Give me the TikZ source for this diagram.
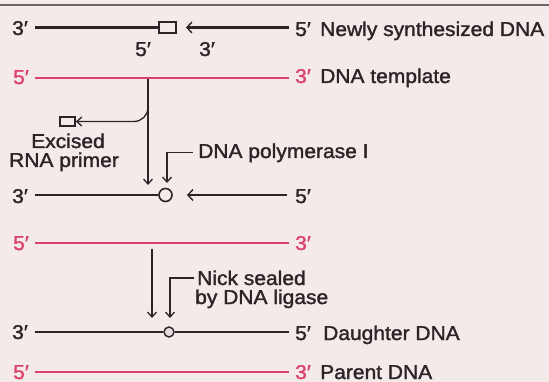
\documentclass[tikz,border=0pt]{standalone}
\usepackage{fontspec}
\setmainfont{Liberation Sans}[FakeStretch=1.05,FakeBold=1.6]
\usetikzlibrary{arrows.meta}
\definecolor{paper}{RGB}{243,234,233}
\definecolor{ink}{RGB}{45,36,40}
\definecolor{strandred}{RGB}{218,66,106}
\definecolor{rulegray}{RGB}{110,100,102}
\definecolor{nickfill}{RGB}{226,220,220}

\begin{document}
\begin{tikzpicture}[x=1pt,y=-1pt,
  lbl/.style={font=\fontsize{20}{23}\selectfont, text=ink, inner sep=0pt, anchor=base west},
  redlbl/.style={lbl, text=strandred},
  newstrand/.style={draw=ink, line width=2.2pt},
  oldstrand/.style={draw=strandred, line width=2.2pt},
  pointer/.style={draw=ink, line width=1.3pt, -{Straight Barb[length=5pt,width=9pt]}},
  backtip/.style={-{Straight Barb[length=5pt,width=11pt,line width=1.4pt]}},
  primerbox/.style={draw=ink, line width=1.7pt, fill=paper, inner sep=0pt},
]
\fill[paper] (0,0) rectangle (549,382);
\useasboundingbox (0,0) rectangle (549,382);

% top rule
\coordinate (ruleL) at (0,5);
\coordinate (ruleR) at (549,5);
\draw[rulegray, line width=1.8pt] (ruleL) -- (ruleR);

% ---- newly synthesized strand with RNA primer
\node[lbl] (n3) at (12,35) {3′};
\coordinate (nA) at (35,27.5);
\node[primerbox, minimum width=17.5pt, minimum height=10.5pt] (primer) at (167.5,27.5) {};
\draw[newstrand] (nA) -- (primer.west);
\coordinate (nTip) at (186,27.5);
\coordinate (nB) at (289,27.5);
\draw[newstrand, backtip] (nB) -- (nTip);
\node[lbl] (pr5) at (135,56) {5′};
\node[lbl] (pr3) at (199,56) {3′};
\node[lbl] (n5) at (295,36) {5′};
\node[lbl] (nName) at (320,36) {Newly synthesized DNA};

% ---- template strand
\node[redlbl] (t5) at (13,84) {5′};
\coordinate (tA) at (35,78);
\coordinate (tB) at (289,78);
\draw[oldstrand] (tA) -- (tB);
\node[redlbl] (t3) at (295,83) {3′};
\node[lbl] (tName) at (320,83) {DNA template};

% ---- excised primer
\node[primerbox, minimum width=15pt, minimum height=9pt] (rna) at (67.5,121.5) {};
\node[lbl, anchor=base] (exc1) at (68,148) {Excised};
\node[lbl, anchor=base] (exc2) at (64,167) {RNA primer};

% ---- step arrow 1 with branch to the excised primer
\coordinate (s1top) at (148,79);
\coordinate (s1tip) at (148,185);
\coordinate (branch) at (148,98);
\draw[pointer] (s1top) -- (s1tip);
\draw[pointer, rounded corners=14pt] (branch) |- (rna.east);

% ---- DNA polymerase I
\node[lbl] (pol) at (198,158) {DNA polymerase I};
\coordinate (poltip) at (167,183);
\draw[pointer] ([xshift=-5pt]pol.west) -| (poltip);

% ---- gapped strand
\node[lbl] (g3) at (12,203) {3′};
\coordinate (gA) at (35,195);
\node[draw=ink, line width=1.6pt, fill=paper, circle, minimum size=13pt, inner sep=0pt] (gap) at (165.5,195) {};
\draw[newstrand] (gA) -- (gap.west);
\coordinate (gTip) at (187,195);
\coordinate (gB) at (287,195);
\draw[newstrand, backtip] (gB) -- (gTip);
\node[lbl] (g5) at (295,203) {5′};

% ---- template strand, second copy
\node[redlbl] (u5) at (13,250) {5′};
\coordinate (uA) at (35,243);
\coordinate (uB) at (289,243);
\draw[oldstrand] (uA) -- (uB);
\node[redlbl] (u3) at (295,250) {3′};

% ---- step arrow 2 and ligase label
\coordinate (s2top) at (152,249);
\coordinate (s2tip) at (152,318);
\draw[pointer] (s2top) -- (s2tip);
\node[lbl] (nick1) at (197,285) {Nick sealed};
\node[lbl] (nick2) at (195,304) {by DNA ligase};
\coordinate (nicktip) at (170,318);
\draw[pointer] ([xshift=-3pt]nick1.west) -| (nicktip);

% ---- daughter strand
\node[lbl] (d3) at (12,339) {3′};
\coordinate (dA) at (35,332);
\node[draw=ink, line width=1.4pt, fill=nickfill, circle, minimum size=10pt, inner sep=0pt] (nick) at (169,332) {};
\coordinate (dB) at (289,332);
\draw[newstrand] (dA) -- (nick.west);
\draw[newstrand] (nick.east) -- (dB);
\node[lbl] (d5) at (295,340) {5′};
\node[lbl] (dName) at (323,340) {Daughter DNA};

% ---- parent strand
\node[redlbl] (p5) at (13,379) {5′};
\coordinate (pA) at (35,372);
\coordinate (pB) at (289,372);
\draw[oldstrand] (pA) -- (pB);
\node[redlbl] (p3) at (295,379) {3′};
\node[lbl] (pName) at (320,379) {Parent DNA};
\end{tikzpicture}
\end{document}
